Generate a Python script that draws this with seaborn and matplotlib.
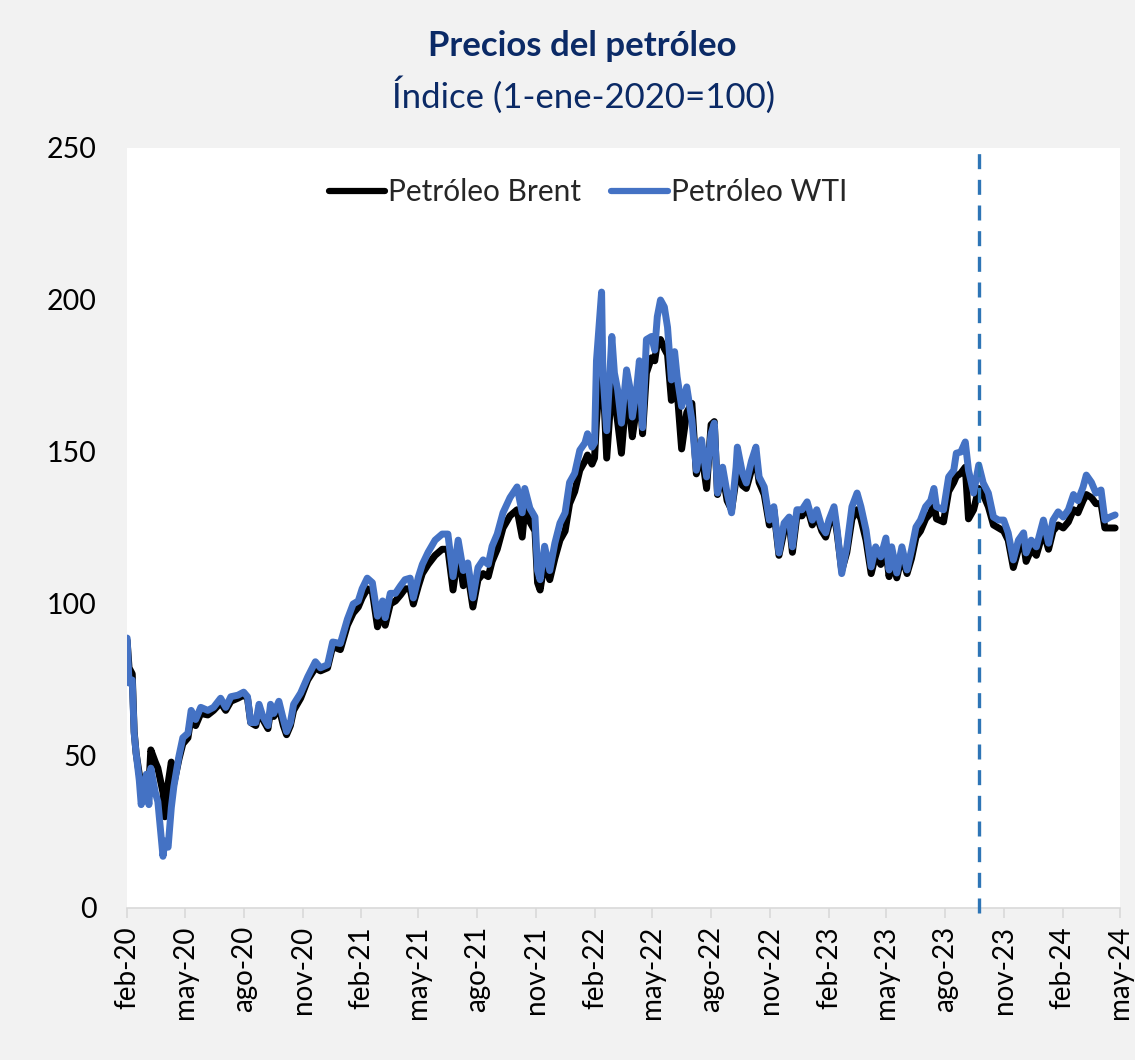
import matplotlib
matplotlib.use("Agg")
import matplotlib.pyplot as plt
import pandas as pd
import seaborn as sns

# ---- data ----
dates = [
    "2020-02-01", "2020-02-04", "2020-02-09", "2020-02-12", "2020-02-15", "2020-02-20", "2020-02-23",
    "2020-03-02", "2020-03-06", "2020-03-09", "2020-03-16", "2020-03-20", "2020-03-28", "2020-03-31",
    "2020-04-05", "2020-04-10", "2020-04-14", "2020-04-22", "2020-04-28", "2020-05-06", "2020-05-11",
    "2020-05-18", "2020-05-26", "2020-06-06", "2020-06-15", "2020-06-26", "2020-07-04", "2020-07-12",
    "2020-07-23", "2020-08-01", "2020-08-07", "2020-08-12", "2020-08-20", "2020-08-25", "2020-08-31",
    "2020-09-08", "2020-09-12", "2020-09-17", "2020-09-25", "2020-10-02", "2020-10-07", "2020-10-13",
    "2020-10-18", "2020-10-29", "2020-11-09", "2020-11-21", "2020-11-29", "2020-12-10", "2020-12-18",
    "2020-12-30", "2021-01-10", "2021-01-19", "2021-01-27", "2021-02-02", "2021-02-10", "2021-02-18",
    "2021-02-26", "2021-03-06", "2021-03-10", "2021-03-18", "2021-03-26", "2021-04-03", "2021-04-10",
    "2021-04-18", "2021-04-23", "2021-05-01", "2021-05-07", "2021-05-16", "2021-05-27", "2021-06-07",
    "2021-06-16", "2021-06-24", "2021-07-02", "2021-07-10", "2021-07-17", "2021-07-25", "2021-08-02",
    "2021-08-10", "2021-08-18", "2021-08-24", "2021-09-01", "2021-09-10", "2021-09-21", "2021-10-02",
    "2021-10-10", "2021-10-14", "2021-10-22", "2021-10-30", "2021-11-03", "2021-11-07", "2021-11-14",
    "2021-11-22", "2021-11-30", "2021-12-08", "2021-12-16", "2021-12-23", "2021-12-31", "2022-01-08",
    "2022-01-16", "2022-01-20", "2022-01-27", "2022-01-31", "2022-02-03", "2022-02-11", "2022-02-13",
    "2022-02-19", "2022-02-27", "2022-03-03", "2022-03-08", "2022-03-14", "2022-03-22", "2022-03-27",
    "2022-03-31", "2022-04-07", "2022-04-11", "2022-04-16", "2022-04-22", "2022-04-30", "2022-05-05",
    "2022-05-09", "2022-05-14", "2022-05-20", "2022-05-25", "2022-05-31", "2022-06-05", "2022-06-09",
    "2022-06-16", "2022-06-24", "2022-07-02", "2022-07-09", "2022-07-17", "2022-07-25", "2022-08-01",
    "2022-08-06", "2022-08-11", "2022-08-19", "2022-08-26", "2022-09-02", "2022-09-09", "2022-09-11",
    "2022-09-19", "2022-09-25", "2022-10-03", "2022-10-10", "2022-10-15", "2022-10-23", "2022-10-31",
    "2022-11-07", "2022-11-15", "2022-11-23", "2022-12-01", "2022-12-06", "2022-12-13", "2022-12-21",
    "2022-12-29", "2023-01-06", "2023-01-13", "2023-01-21", "2023-01-27", "2023-02-01", "2023-02-09",
    "2023-02-14", "2023-02-21", "2023-03-01", "2023-03-09", "2023-03-17", "2023-03-23", "2023-03-31",
    "2023-04-08", "2023-04-15", "2023-04-23", "2023-05-01", "2023-05-06", "2023-05-10", "2023-05-18",
    "2023-05-26", "2023-06-03", "2023-06-10", "2023-06-17", "2023-06-24", "2023-07-02", "2023-07-10",
    "2023-07-15", "2023-07-19", "2023-07-30", "2023-08-07", "2023-08-15", "2023-08-19", "2023-08-26",
    "2023-09-02", "2023-09-07", "2023-09-15", "2023-09-23", "2023-09-30", "2023-10-08", "2023-10-16",
    "2023-10-24", "2023-11-01", "2023-11-08", "2023-11-16", "2023-11-24", "2023-12-02", "2023-12-06",
    "2023-12-14", "2023-12-22", "2024-01-02", "2024-01-10", "2024-01-17", "2024-01-25", "2024-02-02",
    "2024-02-10", "2024-02-18", "2024-02-25", "2024-03-04", "2024-03-09", "2024-03-17", "2024-03-24",
    "2024-04-01", "2024-04-07", "2024-04-15", "2024-04-23",
]

wti = [
    88.8, 74, 75, 57.5, 51, 42, 34,
    44, 34, 46, 38, 35, 17, 22,
    20, 33, 40, 50, 56, 57.5, 65,
    62, 66, 65, 66, 69, 66, 69.5,
    70, 71, 69.5, 61, 61, 67, 63,
    60, 67, 64, 68, 62, 58, 61,
    67, 70.7, 76, 81, 79, 80, 87.5,
    87, 95, 100, 101, 105, 108.5, 107,
    96, 101, 95.5, 103.5, 103.5, 106, 108,
    108.5, 102, 109, 113, 117, 121, 123,
    123, 109, 121, 111, 113.5, 102, 112,
    114.5, 113, 119, 123, 130, 135, 138.5,
    130, 138, 131.5, 128.6, 111, 108, 119,
    111, 120, 126.6, 130, 140, 143, 150.6,
    153, 156, 151.6, 153, 180, 202.6, 176,
    157, 188, 176, 170.5, 159.5, 177, 171.4,
    161.5, 171.4, 180, 158, 187, 188, 183.5,
    194.5, 200, 197.7, 191, 173.7, 183, 174.7,
    165, 171.4, 160.5, 144, 154, 141.8, 156,
    159.5, 136.5, 145, 136.5, 130, 145, 151.6,
    143, 139.8, 147, 151.6, 141.8, 138.5, 127.6,
    132, 116.8, 126.6, 128.6, 118.8, 131, 131,
    133.6, 127.6, 131, 125.3, 123.4, 127.6, 132,
    124.3, 110, 118.8, 132, 136.5, 132, 124.3,
    112.2, 118.8, 115.5, 121.7, 111.2, 118.8, 110.2,
    118.8, 111.2, 117.8, 125.3, 127.6, 132, 134,
    138, 132, 131, 141.8, 144, 149.6, 150,
    153.3, 144, 136.5, 145.7, 139.8, 136.5, 128.6,
    127.6, 127.6, 123.4, 114.5, 121, 123.4, 116.8,
    121, 118.8, 127.6, 120, 127.6, 130.3, 128.6,
    131, 136, 134, 138.5, 142.4, 140, 136.5,
    137.5, 127.6, 128.6, 129.3,
]

brent = [
    88, 79, 77, 58, 51, 44, 42,
    42, 40, 52, 48, 46, 38, 30,
    41, 48, 41, 49, 54, 56, 63,
    60, 64, 63.5, 65, 67.5, 65, 68,
    69, 70, 69, 61, 60, 65, 62,
    59, 65, 63, 66, 60, 57, 60,
    65, 69, 75, 79, 78, 79, 86,
    85, 93, 97, 99, 102, 105, 104,
    92.5, 98, 93, 100, 101, 103, 105,
    105, 100, 106, 110, 113, 116, 118,
    118, 104.6, 117, 106, 110, 99, 108,
    110, 109, 114, 118, 125, 129, 131,
    122, 131, 127, 124, 107, 104.6, 114,
    108, 115, 121, 124, 133, 137, 144,
    147, 149, 146, 148, 160, 182, 175,
    148, 172, 168, 160, 149.6, 170, 163,
    155, 165, 172, 156, 176, 181, 180,
    186, 187, 184, 182, 167, 175, 170,
    151, 163, 166, 142.8, 150, 138, 159,
    160, 136, 143, 134, 131, 141, 146,
    139, 138, 144, 148, 140, 136, 126,
    131, 116, 124, 127, 117, 129, 129,
    132, 126, 129, 124, 122, 126, 130,
    123, 111, 117, 128, 131, 128, 121,
    110, 116, 113, 118, 109, 116, 108.6,
    116, 110, 115, 122, 124, 128, 130,
    133, 128, 127, 137, 140, 142, 143,
    145, 128, 131, 138, 136, 132, 126,
    125, 124, 121, 112, 118, 120, 114,
    118, 116, 124, 118, 124, 126, 125,
    127, 131, 130, 134, 136, 135, 133,
    133, 125, 125, 125,
]

tick_dates = [
    "2020-02-01", "2020-05-01", "2020-08-01", "2020-11-01", "2021-02-01", "2021-05-01",
    "2021-08-01", "2021-11-01", "2022-02-01", "2022-05-01", "2022-08-01", "2022-11-01",
    "2023-02-01", "2023-05-01", "2023-08-01", "2023-11-01", "2024-02-01", "2024-05-01",
]
tick_labels = [
    "feb-20", "may-20", "ago-20", "nov-20", "feb-21", "may-21", "ago-21", "nov-21",
    "feb-22", "may-22", "ago-22", "nov-22", "feb-23", "may-23", "ago-23", "nov-23",
    "feb-24", "may-24",
]
y_ticks = [0, 50, 100, 150, 200, 250]
marker_date = "2023-09-24"
series_names = ["Petróleo Brent", "Petróleo WTI"]
title = "Precios del petróleo"
subtitle = "Índice (1-ene-2020=100)"

# ---- styling ----
sns.set_theme(style="white")
plt.rcParams["font.family"] = ["Lato", "DejaVu Sans"]
navy = "#0b2a66"
colors = {"Petróleo Brent": "#000000", "Petróleo WTI": "#4472c4"}

df = pd.DataFrame({
    "fecha": pd.to_datetime(dates),
    series_names[0]: brent,
    series_names[1]: wti,
})
long = df.melt(id_vars="fecha", var_name="serie", value_name="indice")

fig = plt.figure(figsize=(11.35, 10.6), dpi=100, facecolor="#f2f2f2")
ax = fig.add_axes([0.112, 0.1434, 0.875, 0.717])
ax.set_facecolor("white")

sns.lineplot(data=long, x="fecha", y="indice", hue="serie", hue_order=series_names,
             palette=colors, linewidth=5.0, estimator=None, ax=ax)

ax.axvline(pd.Timestamp(marker_date), ymin=-0.006, ymax=1.0, color="#2e75b6",
           linewidth=2.4, linestyle=(0, (4.5, 3.2)), clip_on=False, zorder=5)

ax.set_xlim(pd.Timestamp(tick_dates[0]), pd.Timestamp(tick_dates[-1]))
ax.set_ylim(y_ticks[0], y_ticks[-1])
ax.set_yticks(y_ticks)
ax.set_xticks(pd.to_datetime(tick_dates))
ax.set_xticklabels(tick_labels, rotation=90)
ax.set_xlabel("")
ax.set_ylabel("")

for side in ["left", "right", "top"]:
    ax.spines[side].set_visible(False)
ax.spines["bottom"].set_color("#d9d9d9")
ax.spines["bottom"].set_linewidth(1.2)

ax.tick_params(axis="x", bottom=True, length=7, width=1.2, color="#d9d9d9",
               labelsize=20, pad=6, labelcolor="black")
ax.tick_params(axis="y", left=False, length=0, labelsize=20.5, pad=22, labelcolor="black")

handles, labels = ax.get_legend_handles_labels()
leg = ax.legend(handles, labels, loc="center", bbox_to_anchor=(0.464, 0.942), ncol=2,
                frameon=False, fontsize=21.5, handlelength=1.9, handletextpad=0.1,
                columnspacing=1.0)
for line in leg.get_lines():
    line.set_linewidth(4.5)

fig.text(0.513, 0.957, title, ha="center", va="center", fontsize=25,
         fontweight="bold", color=navy)
fig.text(0.514, 0.910, subtitle, ha="center", va="center", fontsize=25, color=navy)

fig.savefig("out.png", dpi=100, facecolor=fig.get_facecolor())
